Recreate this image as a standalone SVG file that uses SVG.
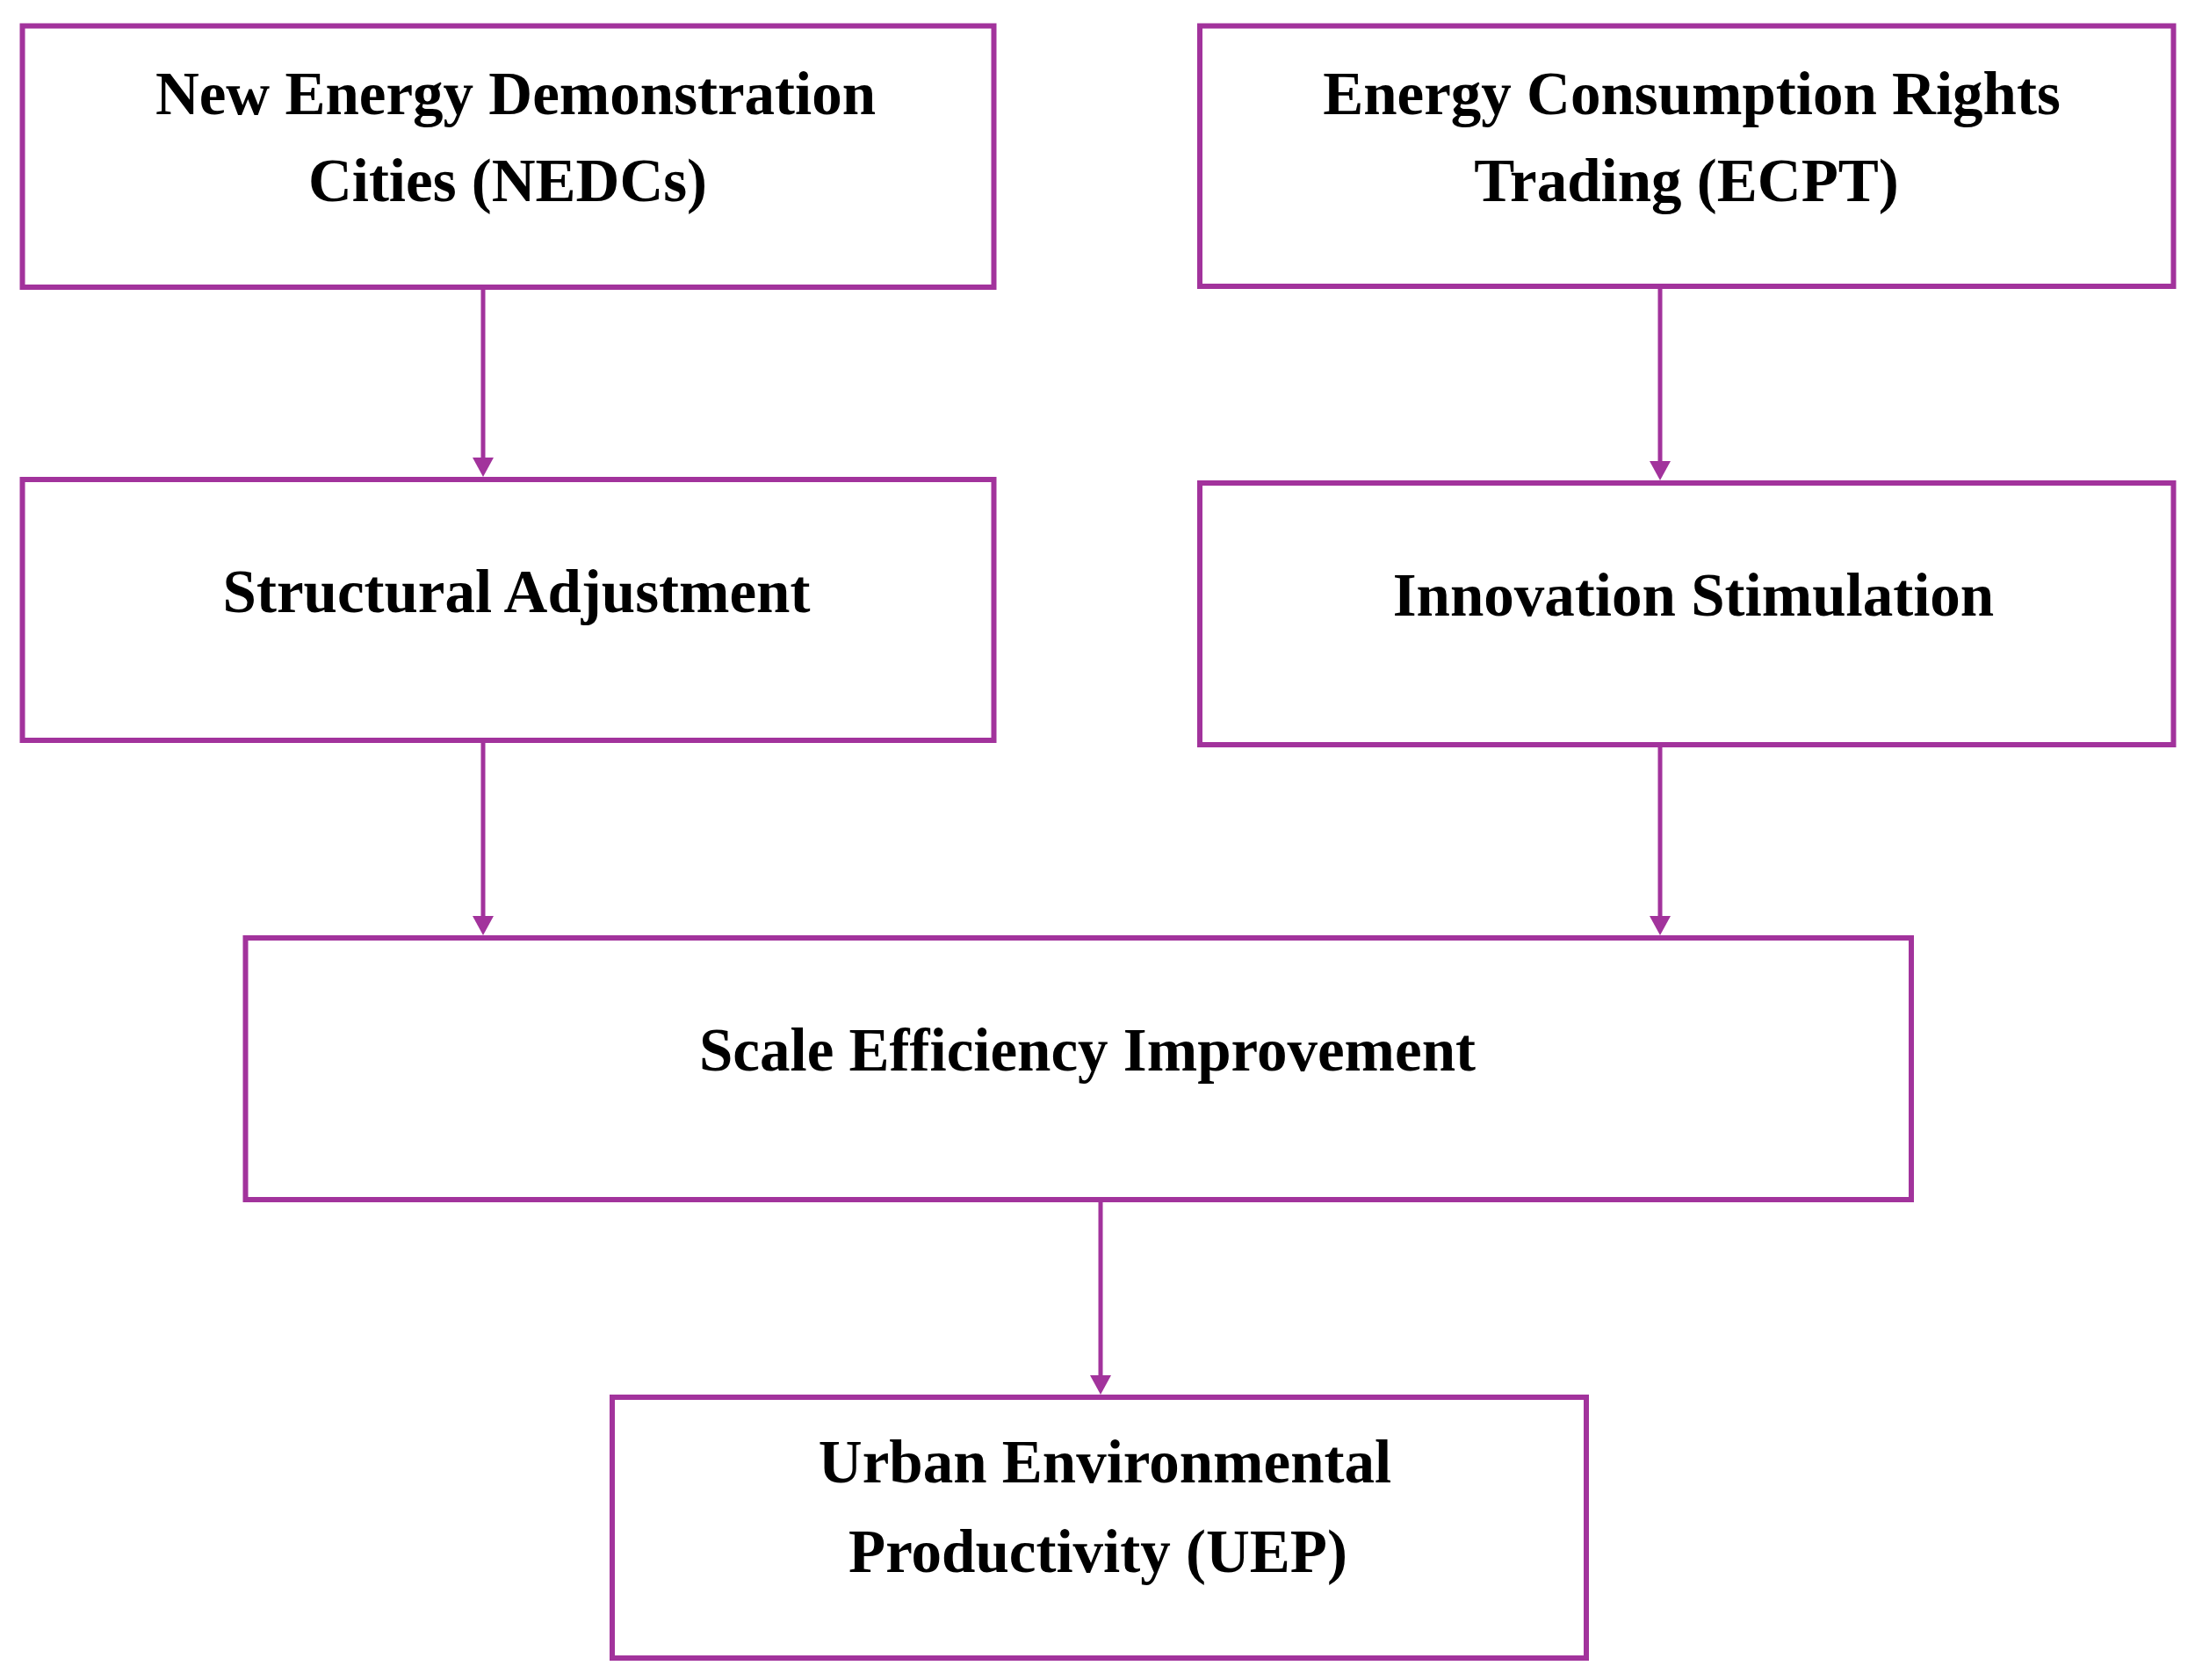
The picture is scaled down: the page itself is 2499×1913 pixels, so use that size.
<svg xmlns="http://www.w3.org/2000/svg" width="2499" height="1913" viewBox="0 0 2499 1913">
<defs>
<style>
.box{fill:#ffffff;stroke:#a2339c;stroke-width:6}
.lbl{font-family:"Liberation Serif","Times New Roman",serif;font-weight:bold;font-size:69px;fill:#000000;text-anchor:middle}
.conn{stroke:#a2339c;stroke-width:5;fill:none;marker-end:url(#arr)}
</style>
<marker id="arr" markerUnits="userSpaceOnUse" markerWidth="22" markerHeight="24" viewBox="0 0 22 24" refX="11" refY="12" orient="auto">
<path d="M0,0 L22,12 L0,24 Z" fill="#a2339c"/>
</marker>
</defs>
<rect width="2499" height="1913" fill="#ffffff"/>
<g id="connectors">
<line class="conn" x1="550" y1="327" x2="550" y2="532"/>
<line class="conn" x1="1890" y1="326" x2="1890" y2="536"/>
<line class="conn" x1="550" y1="843" x2="550" y2="1054"/>
<line class="conn" x1="1890" y1="848" x2="1890" y2="1054"/>
<line class="conn" x1="1253" y1="1366" x2="1253" y2="1577"/>
</g>
<g id="nedc">
<rect class="box" x="25.5" y="29.5" width="1106" height="297.5"/>
<text class="lbl" x="587" y="130">New Energy Demonstration</text>
<text class="lbl" x="578" y="229">Cities (NEDCs)</text>
</g>
<g id="ecpt">
<rect class="box" x="1366" y="29.5" width="1108.5" height="296.5"/>
<text class="lbl" x="1926" y="130">Energy Consumption Rights</text>
<text class="lbl" x="1920" y="229">Trading (ECPT)</text>
</g>
<g id="structural">
<rect class="box" x="25.5" y="546" width="1106" height="297"/>
<text class="lbl" x="588" y="697">Structural Adjustment</text>
</g>
<g id="innovation">
<rect class="box" x="1366" y="550" width="1108.5" height="298"/>
<text class="lbl" x="1928" y="701">Innovation Stimulation</text>
</g>
<g id="scale">
<rect class="box" x="279.5" y="1068" width="1896.5" height="298"/>
<text class="lbl" x="1238" y="1219">Scale Efficiency Improvement</text>
</g>
<g id="uep">
<rect class="box" x="697" y="1591" width="1109" height="297"/>
<text class="lbl" x="1258" y="1688">Urban Environmental</text>
<text class="lbl" x="1250" y="1790">Productivity (UEP)</text>
</g>
</svg>
